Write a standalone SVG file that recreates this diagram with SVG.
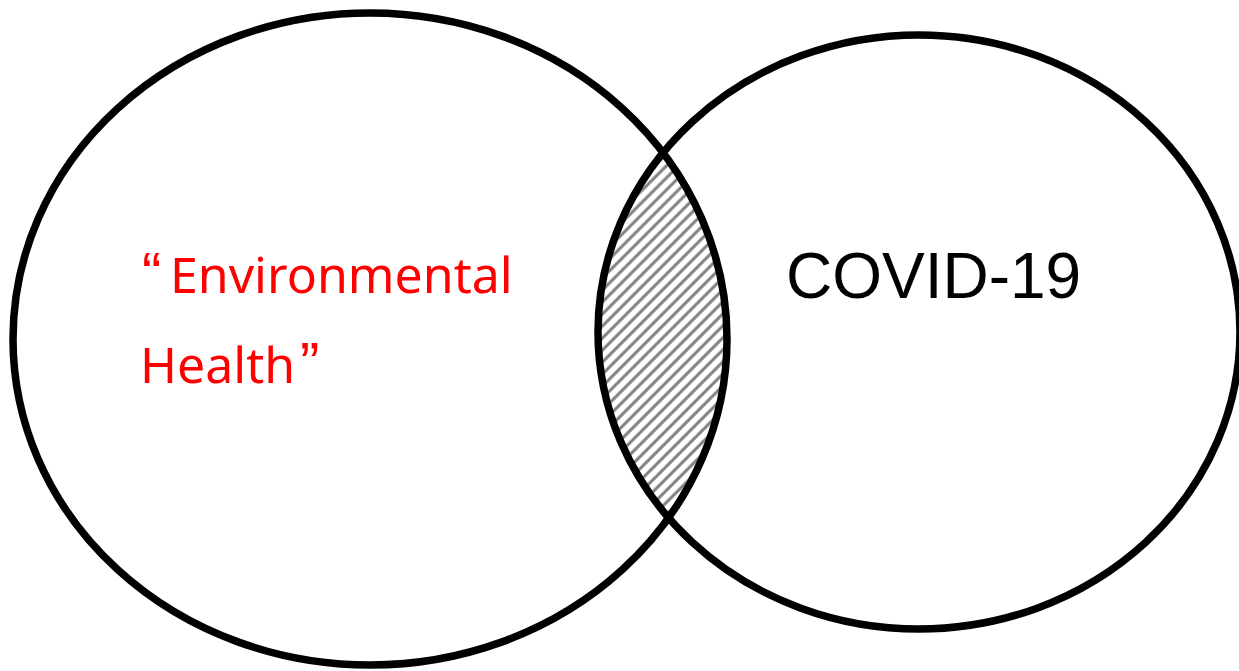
<svg xmlns="http://www.w3.org/2000/svg" width="1239" height="671" viewBox="0 0 1239 671">
  <style>
    .ring { fill: none; stroke: #000; stroke-width: 7.5; }
    .red { fill: #ff0000; font-family: "Noto Sans", "Open Sans", sans-serif; font-size: 50px; }
    .q { font-family: "Liberation Sans", Arial, sans-serif; font-size: 58px; }
    .blk { fill: #000; font-family: "Liberation Sans", Arial, sans-serif; font-size: 64px; }
  </style>
  <defs>
    <pattern id="hatch" patternUnits="userSpaceOnUse" width="8.5" height="8.5" patternTransform="rotate(45)">
      <line x1="2" y1="0" x2="2" y2="8.5" stroke="#7f7f7f" stroke-width="3"/>
    </pattern>
    <clipPath id="clipLeft">
      <ellipse cx="370" cy="339" rx="357" ry="326"/>
    </clipPath>
  </defs>
  <rect width="1239" height="671" fill="#fff"/>
  <g id="overlap">
    <ellipse cx="919" cy="332" rx="321" ry="297" fill="url(#hatch)" clip-path="url(#clipLeft)"/>
  </g>
  <g id="environmental-health">
    <ellipse class="ring" cx="370" cy="339" rx="357" ry="326"/>
    <text class="red" y="293"><tspan class="q" x="142">“</tspan><tspan x="170">Environmental</tspan></text>
    <text class="red" y="383"><tspan x="140">Health</tspan><tspan class="q" x="300">”</tspan></text>
  </g>
  <g id="covid-19">
    <ellipse class="ring" cx="919" cy="332" rx="321" ry="297"/>
    <text class="blk" x="786" y="298">COVID-19</text>
  </g>
  <g id="connectors"/>
</svg>
